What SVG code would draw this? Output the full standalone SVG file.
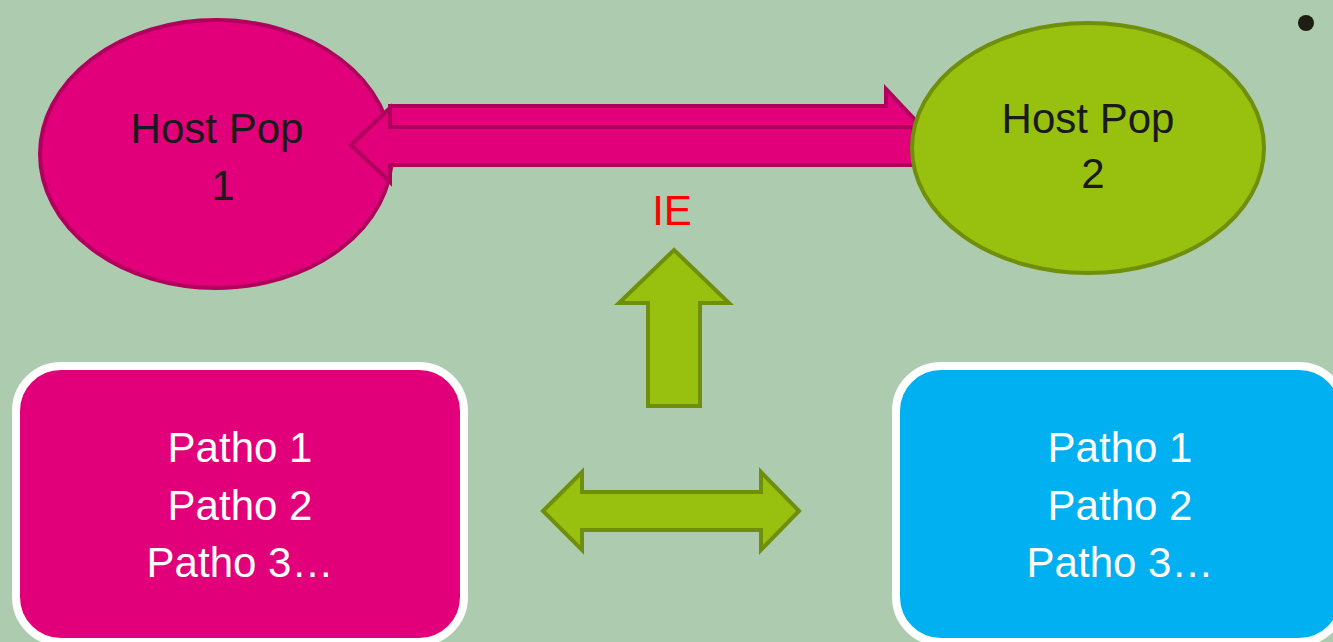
<svg xmlns="http://www.w3.org/2000/svg" width="1333" height="642" viewBox="0 0 1333 642">
  <style>
    .lbl { font-family: "Liberation Sans", Arial, sans-serif; font-size: 42px; text-anchor: middle; }
    .dark { fill: #1a1a1a; }
    .white { fill: #ffffff; }
    .pink { fill: #E2007A; stroke: #B0005E; stroke-width: 4; }
    .green { fill: #97C00F; stroke: #6F8F0A; stroke-width: 4; stroke-linejoin: miter; }
    .box { stroke: #ffffff; stroke-width: 8; }
  </style>

  <!-- background -->
  <rect x="0" y="0" width="1333" height="642" fill="#ADCBAE"/>

  <!-- bullet -->
  <circle cx="1306" cy="23" r="8" fill="#1E1E14"/>

  <g id="host-pop-1">
    <ellipse class="pink" cx="216" cy="154" rx="176" ry="134"/>
    <text class="lbl dark" x="217" y="143">Host Pop</text>
    <text class="lbl dark" x="223" y="200">1</text>
  </g>

  <g id="connectors">
    <!-- thin arrow toward Host Pop 2 (lower half tucked under the wide arrow) -->
    <polygon class="pink" points="390,106 886,106 886,89 918,123 886,157 886,140 390,140"/>
    <!-- wide arrow toward Host Pop 1 -->
    <polygon class="pink" points="913,127 390,127 390,108 351,145 390,182 390,165 913,165"/>
    <!-- upward arrow to IE -->
    <polygon class="green" points="674,250 729,303 700,303 700,406 648,406 648,303 619,303"/>
    <!-- two-way arrow between pathogen groups -->
    <polygon class="green" points="543,511 582,472 582,492 761,492 761,472 799,511 761,550 761,530 582,530 582,550"/>
    <text class="lbl" x="672" y="225" fill="#FF0000">IE</text>
  </g>

  <g id="host-pop-2">
    <ellipse cx="1088" cy="148" rx="176" ry="125" fill="#97C00F" stroke="#6F8F0A" stroke-width="4"/>
    <text class="lbl dark" x="1088" y="133">Host Pop</text>
    <text class="lbl dark" x="1093" y="188">2</text>
  </g>

  <g id="pathogens-1">
    <rect class="box" x="16" y="366" width="448" height="276" rx="45" ry="45" fill="#E2007A"/>
    <text class="lbl white" x="240" y="462">Patho 1</text>
    <text class="lbl white" x="240" y="520">Patho 2</text>
    <text class="lbl white" x="240" y="577">Patho 3…</text>
  </g>

  <g id="pathogens-2">
    <rect class="box" x="896" y="366" width="448" height="276" rx="45" ry="45" fill="#00B0F0"/>
    <text class="lbl white" x="1120" y="462">Patho 1</text>
    <text class="lbl white" x="1120" y="520">Patho 2</text>
    <text class="lbl white" x="1120" y="577">Patho 3…</text>
  </g>
</svg>
